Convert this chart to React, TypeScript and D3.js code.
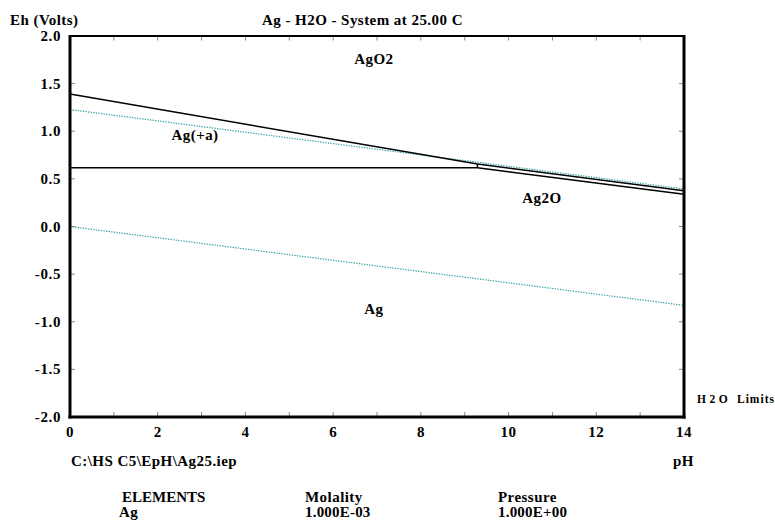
import React from "react";
import * as d3 from "d3";

const phTicks = [0, 2, 4, 6, 8, 10, 12, 14];
const phMinorTicks = [0, 1, 2, 3, 4, 5, 6, 7, 8, 9, 10, 11, 12, 13, 14];
const ehTicks = [2.0, 1.5, 1.0, 0.5, 0.0, -0.5, -1.0, -1.5, -2.0];

// boundary lines [pH, Eh]
const agPlusAgO2: [number, number][] = [[0, 1.39], [9.29, 0.656]];
const ag2oAgO2: [number, number][] = [[9.29, 0.656], [14, 0.376]];
const agAgPlus: [number, number][] = [[0, 0.617], [9.29, 0.617]];
const agAg2o: [number, number][] = [[9.29, 0.617], [14, 0.338]];
const agPlusAg2o: [number, number][] = [[9.29, 0.617], [9.29, 0.656]];
const o2Limit: [number, number][] = [[0, 1.228], [14, 0.394]];
const h2Limit: [number, number][] = [[0, 0], [14, -0.828]];

const speciesLabels = [
  { name: "AgO2", ph: 6.93, eh: 1.706 },
  { name: "Ag(+a)", ph: 2.85, eh: 0.908 },
  { name: "Ag2O", ph: 10.76, eh: 0.247 },
  { name: "Ag", ph: 6.93, eh: -0.919 },
];

const FONT = "Liberation Serif";

export default function App() {
  const W = 775, H = 522;
  const x = d3.scaleLinear().domain([0, 14]).range([70, 684]);
  const y = d3.scaleLinear().domain([-2, 2]).range([417, 36]);
  const line = d3.line<[number, number]>().x(d => x(d[0])).y(d => y(d[1]));
  const [x0, x1] = x.range();
  const [y0, y1] = y.range();

  const txt = (props: any, s: string) => (
    <text fontFamily={FONT} fontWeight="bold" fontSize={15} fill="#000" letterSpacing={0.45} {...props}>{s}</text>
  );

  return (
    <svg width={W} height={H} style={{ position: "absolute", left: 0, top: 0, background: "#fff" }}>
      <rect x={0} y={0} width={W} height={H} fill="#fff" />
      {/* ticks */}
      {phMinorTicks.map(t => (
        <g key={"xt" + t}>
          <line x1={x(t)} x2={x(t)} y1={y1} y2={y1 + 4.5} stroke="#888" strokeWidth={1} />
          <line x1={x(t)} x2={x(t)} y1={y0} y2={y0 - 5} stroke="#888" strokeWidth={1} />
        </g>
      ))}
      {ehTicks.map(t => (
        <g key={"yt" + t}>
          <line x1={x0} x2={x0 + 5} y1={y(t)} y2={y(t)} stroke="#888" strokeWidth={1} />
          <line x1={x1} x2={x1 - 5} y1={y(t)} y2={y(t)} stroke="#888" strokeWidth={1} />
        </g>
      ))}
      {/* water limits */}
      {[o2Limit, h2Limit].map((d, i) => (
        <path key={"w" + i} d={line(d) || ""} fill="none" stroke="#2e9e9e" strokeWidth={1.2} strokeDasharray="1.3 1.3" />
      ))}
      {/* boundaries */}
      {[agPlusAgO2, ag2oAgO2, agAgPlus, agAg2o, agPlusAg2o].map((d, i) => (
        <path key={"b" + i} d={line(d) || ""} fill="none" stroke="#000" strokeWidth={1.5} />
      ))}
      {/* frame */}
      <line x1={x0 - 1} x2={x1 + 1} y1={y1} y2={y1} stroke="#000" strokeWidth={2} />
      <line x1={x0} x2={x0} y1={y1 - 1} y2={y0 + 1.5} stroke="#000" strokeWidth={3} />
      <line x1={x1} x2={x1} y1={y1 - 1} y2={y0 + 1.5} stroke="#000" strokeWidth={3} />
      <line x1={x0 - 1.5} x2={x1 + 1.5} y1={y0} y2={y0} stroke="#000" strokeWidth={3} />
      {/* tick labels */}
      {ehTicks.map(t => txt({ key: "yl" + t, x: 61, y: y(t) + 5, textAnchor: "end", letterSpacing: 0.6 }, t.toFixed(1)))}
      {phTicks.map(t => txt({ key: "xl" + t, x: x(t), y: 437, textAnchor: "middle" }, String(t)))}
      {/* species labels */}
      {speciesLabels.map(s => txt({ key: s.name, x: x(s.ph), y: y(s.eh), textAnchor: "middle" }, s.name))}
      {/* titles */}
      {txt({ x: 10, y: 25 }, "Eh (Volts)")}
      {txt({ x: 262, y: 25 }, "Ag - H2O - System at 25.00 C")}
      <text fontFamily={FONT} fontWeight="bold" fontSize={11.5} fill="#000" y={403}>
        <tspan x={697} letterSpacing={3.5}>H2O</tspan>
        <tspan x={737} letterSpacing={1}>Limits</tspan>
      </text>
      {txt({ x: 71, y: 466 }, "C:\\HS C5\\EpH\\Ag25.iep")}
      {txt({ x: 673, y: 466 }, "pH")}
      {txt({ x: 122, y: 502, letterSpacing: 0 }, "ELEMENTS")}
      {txt({ x: 119, y: 517 }, "Ag")}
      {txt({ x: 305, y: 502 }, "Molality")}
      {txt({ x: 305, y: 517, letterSpacing: 0.2 }, "1.000E-03")}
      {txt({ x: 498, y: 502 }, "Pressure")}
      {txt({ x: 498, y: 517, letterSpacing: 0.2 }, "1.000E+00")}
    </svg>
  );
}
